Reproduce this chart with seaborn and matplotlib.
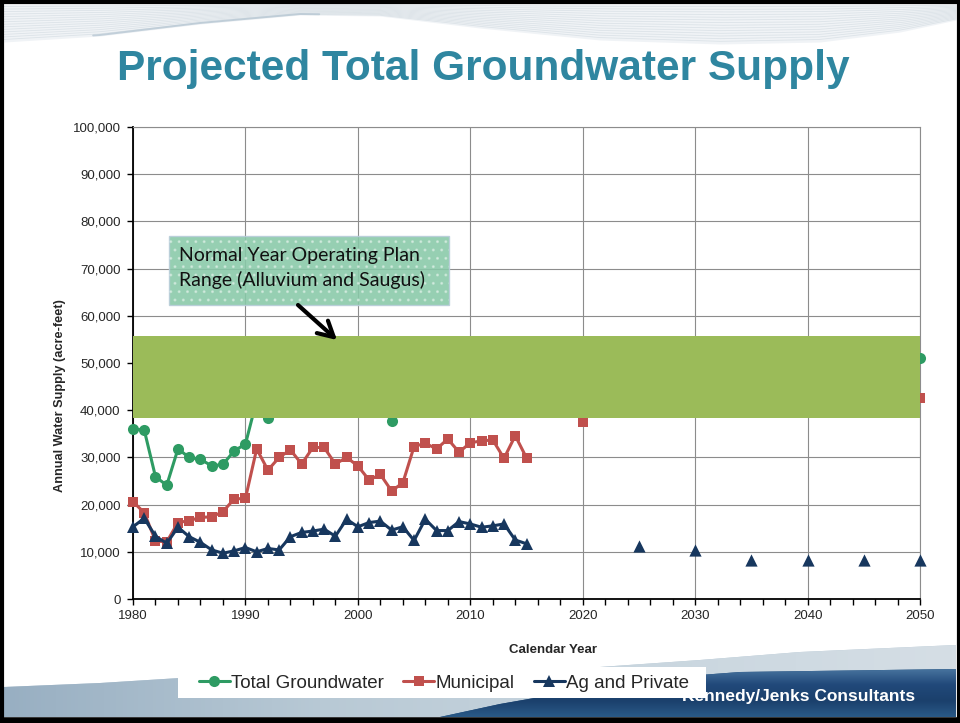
import numpy as np
import pandas as pd
import matplotlib
matplotlib.use("Agg")
import matplotlib.pyplot as plt
from matplotlib.patches import Rectangle, Polygon
from matplotlib.colors import LinearSegmentedColormap
from matplotlib.ticker import MultipleLocator, FuncFormatter
import seaborn as sns

# ---- data (acre-feet) ----
hist_years = list(range(1980, 2016))
total_hist = [36000, 35800, 25900, 24100, 31800, 30000, 29600, 28200, 28500, 31400,
              32800, 42100, 38400, 40600, 45000, 42900, 46700, 47100, 42100, 47100,
              43700, 41600, 43100, 37800, 40100, 44900, 50100, 46500, 48600, 47700,
              49200, 48900, 49400, 45900, 47300, 41800]
muni_hist = [20600, 18300, 12300, 12100, 16200, 16600, 17300, 17400, 18500, 21200,
             21300, 31800, 27300, 30000, 31600, 28600, 32100, 32100, 28600, 30000,
             28200, 25200, 26400, 22900, 24600, 32300, 33000, 31800, 33900, 31100,
             33100, 33500, 33700, 29800, 34600, 29900]
ag_hist = [15300, 17100, 13300, 11800, 15200, 13200, 12000, 10400, 9700, 10200,
           10900, 10000, 10700, 10400, 13200, 14100, 14400, 14800, 13300, 16900,
           15300, 16200, 16500, 14600, 15300, 12400, 16900, 14500, 14500, 16400,
           15900, 15200, 15500, 15900, 12500, 11700]

proj_years = [2020, 2025, 2030, 2035, 2040, 2045, 2050]
total_proj = [49600, 50200, 50600, 50400, 50700, 50900, 51100]
muni_proj = [37600, 40600, 41400, 41900, 42200, 42400, 42600]
ag_proj_years = [2025, 2030, 2035, 2040, 2045, 2050]
ag_proj = [11200, 10300, 8300, 8300, 8300, 8300]

band_years = [1980, 2050]
band_low, band_high = 38300, 55700

series_names = ["Total Groundwater", "Municipal", "Ag and Private"]
series_colors = ["#2E9B63", "#C0504D", "#17375E"]

# ---- style ----
sns.set_style("white")
plt.rcParams["font.family"] = ["Liberation Sans", "DejaVu Sans"]
plt.rcParams["hatch.linewidth"] = 1.0

W, H = 960, 723
fig = plt.figure(figsize=(W / 100, H / 100), dpi=100)
fig.patch.set_facecolor("white")

# background slide decoration in pixel coordinates
bg = fig.add_axes([0, 0, 1, 1], zorder=0)
bg.set_xlim(0, W)
bg.set_ylim(H, 0)
bg.axis("off")

# top swoosh of pale lines
xs = np.linspace(4, 956, 300)
lower = np.interp(xs, [4, 100, 200, 300, 380, 480, 600, 720, 820, 900, 956],
                  [42, 36, 24, 15, 16, 28, 40, 44, 42, 32, 20])
bg.fill_between(xs, 4, lower, color="#F0F3F6", lw=0)
for k in range(14):
    frac = (k + 1) / 15
    bg.plot(xs, 4 + (lower - 4) * frac, color="#DCE3E8", lw=0.6)
crest = (xs > 90) & (xs < 320)
bg.plot(xs[crest], lower[crest] - 1, color="#B7C7D3", lw=1.4, alpha=0.8)

# footer swooshes
light_poly = Polygon([(4, 717), (4, 687), (100, 683), (180, 678), (300, 675), (450, 672),
                      (600, 667), (700, 660), (800, 652), (956, 645), (956, 717)],
                     closed=True, facecolor="#B9CAD6", edgecolor="none")
bg.add_patch(light_poly)
grad = np.linspace(0, 1, 256).reshape(1, -1)
im = bg.imshow(grad, extent=[4, 956, 717, 640], cmap=LinearSegmentedColormap.from_list(
    "foot", ["#98AFC2", "#B8C9D5", "#C9D6DF", "#D5DEE5"]), aspect="auto", zorder=1)
im.set_clip_path(light_poly)
dark_poly = Polygon([(440, 717), (500, 704), (580, 690), (660, 678), (740, 672),
                     (956, 669), (956, 717)], closed=True, facecolor="#24507D",
                    edgecolor="none", zorder=2)
bg.add_patch(dark_poly)
gradv = np.linspace(0, 1, 256).reshape(-1, 1)
im2 = bg.imshow(gradv, extent=[4, 956, 717, 668], cmap=LinearSegmentedColormap.from_list(
    "band", ["#4A76A0", "#21497A", "#1B406C", "#2A5A88"]), aspect="auto", zorder=2)
im2.set_clip_path(dark_poly)
bg.text(915, 697, "Kennedy/Jenks Consultants", color="white", fontsize=12.5,
        fontweight="bold", ha="right", va="center", zorder=3)
# white legend panel
bg.add_patch(Rectangle((178, 667), 528, 31, facecolor="white", edgecolor="none", zorder=5))

# slide frame
bg.add_patch(Rectangle((1.5, 1.5), W - 3, H - 4, fill=False, edgecolor="black", lw=3, zorder=6))
bg.plot([0, W], [720, 720], color="black", lw=4, zorder=6)

# title
fig.text(483 / W, 1 - 69 / H, "Projected Total Groundwater Supply", ha="center", va="center",
         color="#2F86A0", fontsize=30.5, fontweight="bold",
         family=["Liberation Sans Narrow", "Liberation Sans"])

# ---- chart ----
ax = fig.add_axes([133 / W, 1 - 599 / H, 787 / W, 472 / H], zorder=2)
ax.set_facecolor("white")

hist_values = [total_hist, muni_hist, ag_hist]
markers = ["o", "s", "^"]
msizes = [8, 7, 8.8]
for name, vals, color, mk, ms in zip(series_names, hist_values, series_colors, markers, msizes):
    sns.lineplot(x=hist_years, y=vals, ax=ax, color=color, marker=mk, markersize=ms,
                 markeredgewidth=0, linewidth=2.2, clip_on=False, zorder=3, label=name)

for yrs, vals, color, mk, ms in [(proj_years, total_proj, series_colors[0], "o", 8),
                                 (proj_years, muni_proj, series_colors[1], "s", 7),
                                 (ag_proj_years, ag_proj, series_colors[2], "^", 8.8)]:
    sns.scatterplot(x=yrs, y=vals, ax=ax, color=color, marker=mk, s=ms ** 2,
                    linewidth=0, clip_on=False, zorder=3, legend=False)

handles, labels = ax.get_legend_handles_labels()
if ax.get_legend() is not None:
    ax.get_legend().remove()

# operating plan range band
ax.fill_between(band_years, band_low, band_high, color="#9BBB59", lw=0, zorder=5)

ax.set_xlim(1980, 2050)
ax.set_ylim(0, 100000)
ax.xaxis.set_major_locator(MultipleLocator(10))
ax.xaxis.set_minor_locator(MultipleLocator(2))
ax.yaxis.set_major_locator(MultipleLocator(10000))
ax.yaxis.set_major_formatter(FuncFormatter(lambda v, p: f"{v:,.0f}"))
ax.grid(True, which="major", color="#8C8C8C", lw=0.8)
ax.set_axisbelow(True)
for side in ["top", "right"]:
    ax.spines[side].set_color("#8C8C8C")
    ax.spines[side].set_linewidth(0.8)
for side in ["left", "bottom"]:
    ax.spines[side].set_color("black")
    ax.spines[side].set_linewidth(1.3)
ax.tick_params(axis="x", which="both", direction="out", length=4, width=1, color="black",
               labelsize=9.5, pad=4, bottom=True)
ax.tick_params(axis="y", which="major", direction="out", length=4, width=1, color="black",
               labelsize=9.5, pad=5, left=True)
ax.set_xlabel("Calendar Year", fontsize=9.5, fontweight="bold", labelpad=16)
ax.set_ylabel("Annual Water Supply (acre-feet)", fontsize=9.2, fontweight="bold", labelpad=5)
ax.xaxis.label.set_x((553 - 133) / 787)
ax.yaxis.label.set_y((599 - 396) / 472)

# ---- callout box and arrow ----
ov = fig.add_axes([0, 0, 1, 1], zorder=3)
ov.set_xlim(0, W)
ov.set_ylim(H, 0)
ov.axis("off")
ov.add_patch(Rectangle((169, 236), 280, 69, facecolor="#88C9A8", alpha=0.88,
                       edgecolor="#B8CCDA", lw=1))
ov.add_patch(Rectangle((169, 236), 280, 69, fill=False, hatch="..",
                       edgecolor="white", lw=0, alpha=0.35))
ov.text(179, 268, "Normal Year Operating Plan\nRange (Alluvium and Saugus)", fontsize=14,
        family=["Lato", "DejaVu Sans"], color="#111111", ha="left", va="center",
        linespacing=1.5)
ov.annotate("", xy=(337, 340), xytext=(298, 305),
            arrowprops=dict(arrowstyle="->,head_length=0.55,head_width=0.3", lw=3,
                            color="black", mutation_scale=20, shrinkA=0, shrinkB=0))

# ---- legend ----
leg = fig.legend(handles, labels, loc="center", bbox_to_anchor=(444 / W, 1 - 683 / H), ncol=3,
                 frameon=False, fontsize=13.5, handlelength=1.65, handletextpad=0.1,
                 columnspacing=1.0, borderpad=0.2, borderaxespad=0)
leg.set_zorder(10)

fig.savefig("out.png", dpi=100, facecolor="white")
